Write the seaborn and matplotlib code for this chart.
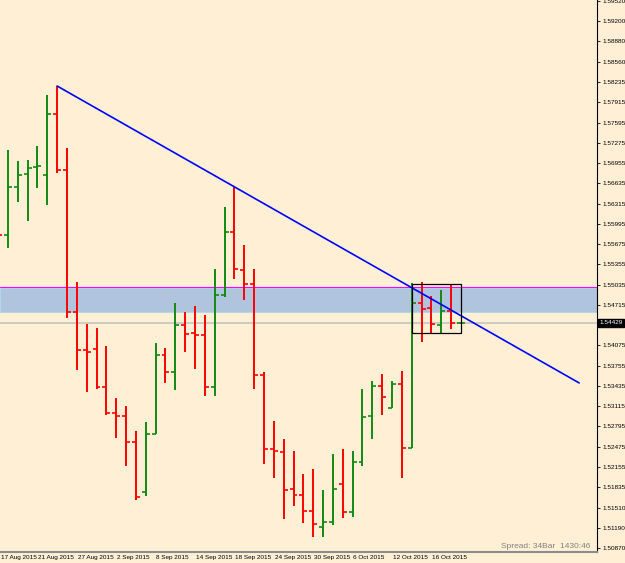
import matplotlib
matplotlib.use("Agg")
import matplotlib.pyplot as plt
import matplotlib.transforms as mtransforms
from matplotlib.patches import Rectangle
import pandas as pd
import seaborn as sns

# дневные бары (OHLC), 17 Aug 2015 - 19 Oct 2015
opens = [1.56000, 1.55819, 1.56577, 1.56783, 1.56893, 1.56767, 1.57731, 1.56846,
         1.54602, 1.54002, 1.54018, 1.53417, 1.53007, 1.52959, 1.52548, 1.51758,
         1.52675, 1.53923, 1.53656, 1.54397, 1.54271, 1.54239, 1.53417, 1.54871,
         1.55866, 1.55266, 1.55045, 1.53607, 1.52438, 1.52390, 1.51806, 1.51711,
         1.51458, 1.51205, 1.51284, 1.51885, 1.51442, 1.52232, 1.52965, 1.53433,
         1.53086, 1.53465, 1.52454, 1.54745, 1.54666, 1.54397, 1.54618, 1.54425]
highs = [1.56350, 1.57162, 1.56988, 1.57004, 1.57225, 1.58031, 1.58173, 1.57194,
         1.55076, 1.54413, 1.54350, 1.54065, 1.53244, 1.53117, 1.52722, 1.52864,
         1.54113, 1.54034, 1.54745, 1.54602, 1.54697, 1.54555, 1.55282, 1.56261,
         1.56577, 1.55661, 1.55282, 1.53656, 1.52880, 1.52596, 1.52406, 1.52043,
         1.52122, 1.51790, 1.52359, 1.52438, 1.52406, 1.53386, 1.53518, 1.53628,
         1.53518, 1.53676, 1.55060, 1.55076, 1.54855, 1.54950, 1.55045, 1.54440]
lows = [1.55550, 1.55614, 1.56340, 1.56040, 1.56562, 1.56293, 1.56799, 1.54508,
        1.53686, 1.53338, 1.53386, 1.52975, 1.52612, 1.52169, 1.51632, 1.51695,
        1.52675, 1.53481, 1.53370, 1.53970, 1.53702, 1.53275, 1.53275, 1.54839,
        1.55124, 1.54792, 1.53386, 1.52201, 1.51980, 1.51332, 1.51537, 1.51269,
        1.51047, 1.51047, 1.51237, 1.51348, 1.51363, 1.52169, 1.52596, 1.52975,
        1.53086, 1.51980, 1.52454, 1.54128, 1.54271, 1.54271, 1.54334, 1.54420]
closes = [1.55819, 1.56577, 1.56767, 1.56878, 1.56909, 1.57731, 1.56846, 1.54602,
          1.54002, 1.53970, 1.53417, 1.53007, 1.52959, 1.52548, 1.51679, 1.52675,
          1.53923, 1.53656, 1.54397, 1.54255, 1.54239, 1.53417, 1.54871, 1.55866,
          1.55282, 1.55045, 1.53607, 1.52438, 1.52406, 1.51790, 1.51711, 1.51458,
          1.51253, 1.51284, 1.51806, 1.51442, 1.52232, 1.52949, 1.53433, 1.53259,
          1.53465, 1.52454, 1.54745, 1.54650, 1.54413, 1.54618, 1.54429, 1.54429]

date_bars = [0, 4, 8, 12, 16, 20, 24, 28, 32, 36, 40, 44]
date_labels = ["17 Aug 2015", "21 Aug 2015", "27 Aug 2015", "2 Sep 2015",
               "8 Sep 2015", "14 Sep 2015", "18 Sep 2015", "24 Sep 2015",
               "30 Sep 2015", "6 Oct 2015", "12 Oct 2015", "16 Oct 2015"]

price_ticks = [1.59520, 1.59200, 1.58880, 1.58560, 1.58235, 1.57915, 1.57595,
               1.57275, 1.56955, 1.56635, 1.56315, 1.55995, 1.55675, 1.55355,
               1.55035, 1.54715, 1.54075, 1.53755, 1.53435, 1.53115, 1.52795,
               1.52475, 1.52155, 1.51835, 1.51510, 1.51190, 1.50870]
current_price = 1.54429

# трендовая линия, зона и прямоугольник
trend_bars = [6, 59]
trend_prices = [1.58173, 1.53481]
zone_top = 1.54981
zone_bottom = 1.54602
zone_line = 1.54997
box_bars = [42, 47]
box_prices = [1.54271, 1.55045]

df = pd.DataFrame({"open": opens, "high": highs, "low": lows, "close": closes})
df["bar"] = range(len(df))
df["color"] = ["#FF0000" if c < o else "#128A12" for o, c in zip(df["open"], df["close"])]

sns.set_style("white")
plt.rcParams["font.family"] = ["Liberation Sans", "DejaVu Sans"]

bg = "#FFEFD5"
fig = plt.figure(figsize=(6.25, 5.63), dpi=100, facecolor=bg)
ax = fig.add_axes([0, 11 / 563, 597 / 625, 552 / 563])
ax.set_facecolor(bg)

# зона
ax.axhspan(zone_bottom, zone_top, facecolor="#B0C4DE", edgecolor="#A8D8EE", lw=0.6, zorder=0)
ax.axhline(zone_line, color="#FF00FF", lw=0.8, zorder=1)
ax.axhline(current_price, color="#C0C0C0", lw=1.1, zorder=1)

# бары
ax.vlines(df["bar"], df["low"], df["high"], colors=df["color"], lw=1.4, zorder=3)
ax.hlines(df["open"], df["bar"] - 0.4, df["bar"], colors=df["color"], lw=1.2, zorder=3)
ax.hlines(df["close"], df["bar"], df["bar"] + 0.4, colors=df["color"], lw=1.2, zorder=3)

sns.lineplot(x=trend_bars, y=trend_prices, color="#0000FF", lw=1.2, ax=ax, zorder=4)

ax.add_patch(Rectangle((box_bars[0], box_prices[0]), box_bars[1] - box_bars[0],
                       box_prices[1] - box_prices[0], fill=False, edgecolor="black",
                       lw=0.9, zorder=5))

ax.set_xlim(0.2, 60.81)
ax.set_ylim(1.50810, 1.59532)

for s in ["left", "top"]:
    ax.spines[s].set_visible(False)
ax.spines["right"].set_color("black")
ax.spines["right"].set_linewidth(0.8)
ax.spines["bottom"].set_color("#8C8C8C")
ax.spines["bottom"].set_linewidth(1.5)

ax.yaxis.tick_right()
ax.set_yticks(price_ticks)
ax.set_yticklabels([f"{p:.5f}" for p in price_ticks])
ax.tick_params(axis="y", length=2.5, width=0.6, pad=1.5, labelsize=4.6,
               colors="black", direction="out")

ax.set_xticks(date_bars[1:])
ax.set_xticklabels([""] * len(date_bars[1:]))
ax.tick_params(axis="x", length=2, width=0.6, color="#404040", direction="out")
trans = mtransforms.blended_transform_factory(ax.transData, ax.transAxes)
for b, lab in zip(date_bars, date_labels):
    ax.annotate(lab, xy=(max(b, 0.2), -0.0095), xycoords=trans,
                xytext=(0.6, 0), textcoords="offset points",
                ha="left", va="center", fontsize=4.6, color="black",
                annotation_clip=False)

# метка текущей цены
ax.text(1.004, current_price, f"{current_price:.5f}",
        transform=mtransforms.blended_transform_factory(ax.transAxes, ax.transData),
        ha="left", va="center", fontsize=4.6, color="white", clip_on=False,
        bbox=dict(boxstyle="square,pad=0.25", facecolor="black", edgecolor="black"))

fig.text(590 / 625, 1 - 548 / 563, "Spread: 34Bar  1430:46", ha="right",
         va="baseline", fontsize=6, color="#808080")

fig.savefig("out.png", dpi=100, facecolor=bg)
